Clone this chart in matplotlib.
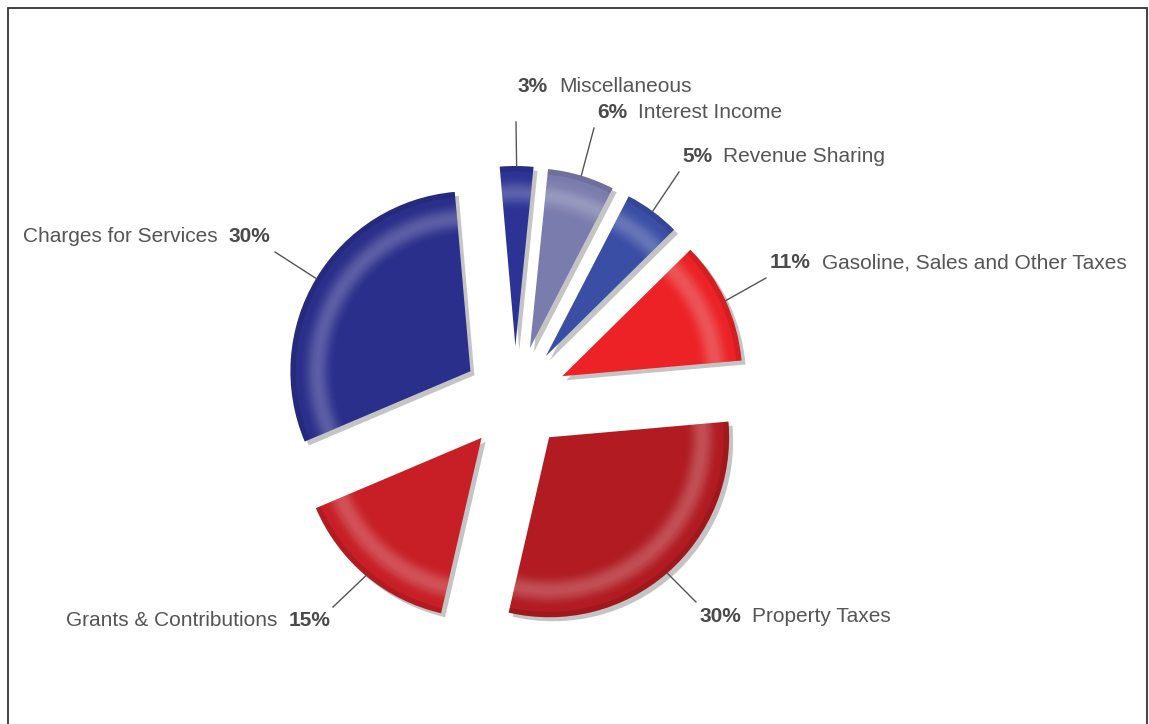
import matplotlib.pyplot as plt
from matplotlib.patches import Rectangle
import numpy as np

plt.rcParams['font.family'] = ['Liberation Sans', 'DejaVu Sans']

# data (clockwise from the top)
names = ['Miscellaneous', 'Interest Income', 'Revenue Sharing',
         'Gasoline, Sales and Other Taxes', 'Property Taxes',
         'Grants & Contributions', 'Charges for Services']
shares = [3, 6, 5, 11, 30, 15, 30]
colors = ['#2c3394', '#7b7cae', '#3a4ea6', '#ec2226', '#b21b22', '#c81f26', '#2b2f8c']

W, H = 1149, 724
cx, cy = 515, H - 398
R = 180
gap = 52
start = 95
explode = [gap] * len(shares)

fig = plt.figure(figsize=(W / 100, H / 100), dpi=100)
ax = fig.add_axes([0, 0, 1, 1])

pie_kw = dict(explode=explode, startangle=start, counterclock=False, frame=True)

# shadow
ax.pie(shares, center=(cx + 4, cy - 4), radius=R, colors=['#8a8a8a'] * 7,
       wedgeprops=dict(linewidth=0, alpha=0.5), **pie_kw)
# slices
wedges, _ = ax.pie(shares, center=(cx, cy), radius=R, colors=colors,
                   wedgeprops=dict(linewidth=0), **pie_kw)

# bevel: light band near the rim, darker outer edge
step = 0.006
for r in np.arange(0.70, 0.985, step):
    a = 0.035 * np.exp(-((r - 0.87) / 0.055) ** 2)
    ax.pie(shares, center=(cx, cy), radius=R * (r + step), colors=['white'] * 7,
           wedgeprops=dict(width=R * 0.05, linewidth=0, alpha=a), **pie_kw)
ax.pie(shares, center=(cx, cy), radius=R, colors=['black'] * 7,
       wedgeprops=dict(width=R * 0.03, linewidth=0, alpha=0.1), **pie_kw)

# labels: (text x, text y in image px, side)
label_pos = [(518, 86, 'r'), (597, 113, 'r'), (682, 156, 'r'), (770, 263, 'r'),
             (699, 616, 'r'), (330, 620, 'l'), (270, 237, 'l')]
line_ends = [(516, 122), (594, 128), (679, 172), (766, 278),
             (696, 602), (333, 607), (275, 252)]

fs = 15
for w, name, pct, (tx, ty, side), (lx, ly) in zip(wedges, names, shares, label_pos, line_ends):
    mid = np.deg2rad((w.theta1 + w.theta2) / 2)
    ex, ey = w.center
    px, py = ex + R * np.cos(mid), ey + R * np.sin(mid)
    ax.plot([px, lx], [py, H - ly], color='#555555', lw=1)
    if side == 'r':
        t = ax.text(tx, H - ty, f'{pct}%', ha='left', va='center', fontsize=fs,
                    fontweight='bold', color='#4a4a4a')
        ax.annotate(name, xy=(1, 0.5), xycoords=t, xytext=(8, 0),
                    textcoords='offset points', ha='left', va='center',
                    fontsize=fs, color='#555555')
    else:
        t = ax.text(tx, H - ty, f'{pct}%', ha='right', va='center', fontsize=fs,
                    fontweight='bold', color='#4a4a4a')
        ax.annotate(name, xy=(0, 0.5), xycoords=t, xytext=(-8, 0),
                    textcoords='offset points', ha='right', va='center',
                    fontsize=fs, color='#555555')

ax.set_xlim(0, W)
ax.set_ylim(0, H)
ax.set_aspect('equal')
ax.axis('off')

# outer frame
fig.patches.append(Rectangle((8 / W, -0.05), (W - 10) / W, (H - 8) / H + 0.05,
                             transform=fig.transFigure, fill=False,
                             edgecolor='#333333', lw=1.3))

fig.savefig('out.png', dpi=100, facecolor='white')
